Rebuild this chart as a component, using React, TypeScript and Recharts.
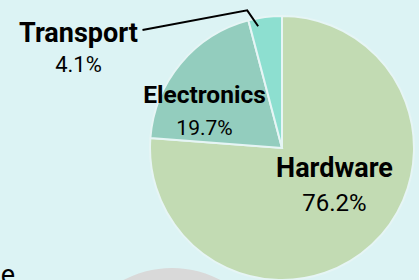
import { PieChart, Pie, Cell } from 'recharts';

type Slice = {
  name: string;
  share: number;
};

const categories: string[] = ['Hardware', 'Electronics', 'Transport'];
const shares: number[] = [76.2, 19.7, 4.1];
const shareLabels: string[] = ['76.2%', '19.7%', '4.1%'];
const colors: string[] = ['#c2dbb3', '#93cdbe', '#8ddfd0'];

const data: Slice[] = categories.map((name, i) => ({ name, share: shares[i] }));

// label layout, relative to the pie centre (baselines)
const labelLayout = [
  { dx: 52.5, titleDy: 29, valueDy: 63, titleSize: 27, valueSize: 24 },
  { dx: -77.5, titleDy: -45, valueDy: -13, titleSize: 24.5, valueSize: 21 },
  { dx: -203.5, titleDy: -106, valueDy: -76, titleSize: 27, valueSize: 22 },
];

const FONT = 'Roboto, "Noto Sans", sans-serif';

const renderLabel = (props: any) => {
  const { cx, cy, index, midAngle, outerRadius } = props;
  const l = labelLayout[index];
  const x = cx + l.dx;
  let leader = null;
  if (index === 2) {
    // leader line for the small slice
    const rad = Math.PI / 180;
    const a1 = midAngle + 3.7;
    const a2 = midAngle + 6.8;
    const p1x = cx + outerRadius * 0.94 * Math.cos(a1 * rad);
    const p1y = cy - outerRadius * 0.94 * Math.sin(a1 * rad);
    const p2x = cx + (outerRadius + 10) * Math.cos(a2 * rad);
    const p2y = cy - (outerRadius + 10) * Math.sin(a2 * rad);
    leader = (
      <polyline
        points={`${p1x},${p1y} ${p2x},${p2y} ${x + 64},${cy + l.titleDy - 12}`}
        fill="none"
        stroke="#000"
        strokeWidth={2}
      />
    );
  }
  return (
    <g>
      {leader}
      <text x={x} y={cy + l.titleDy} textAnchor="middle" fontFamily={FONT} fontWeight={700} fontSize={l.titleSize} fill="#000">
        {categories[index]}
      </text>
      <text x={x} y={cy + l.valueDy} textAnchor="middle" fontFamily={FONT} fontSize={l.valueSize} fill="#000">
        {shareLabels[index]}
      </text>
    </g>
  );
};

const App = () => {
  return (
    <div style={{ position: 'absolute', top: 0, left: 0, width: 419, height: 280, background: '#dcf3f4', overflow: 'hidden' }}>
      <PieChart width={419} height={280} margin={{ top: 0, right: 0, bottom: 0, left: 0 }}>
        <Pie
          data={[{ name: 'other', share: 1 }]}
          dataKey="share"
          cx={172}
          cy={372}
          outerRadius={104}
          fill="#d9d9d9"
          stroke="none"
          isAnimationActive={false}
        />
        <Pie
          data={data}
          dataKey="share"
          nameKey="name"
          cx={282}
          cy={148}
          outerRadius={132}
          startAngle={90}
          endAngle={-270}
          stroke="#e6f5f5"
          strokeWidth={2}
          label={renderLabel}
          labelLine={false}
          isAnimationActive={false}
        >
          {data.map((d, i) => (
            <Cell key={d.name} fill={colors[i]} />
          ))}
        </Pie>
      </PieChart>
      <div style={{ position: 'absolute', left: -7, top: 259, fontFamily: FONT, fontSize: 27, color: '#000', width: 22, textAlign: 'right' }}>
        e
      </div>
    </div>
  );
};

export default App;
